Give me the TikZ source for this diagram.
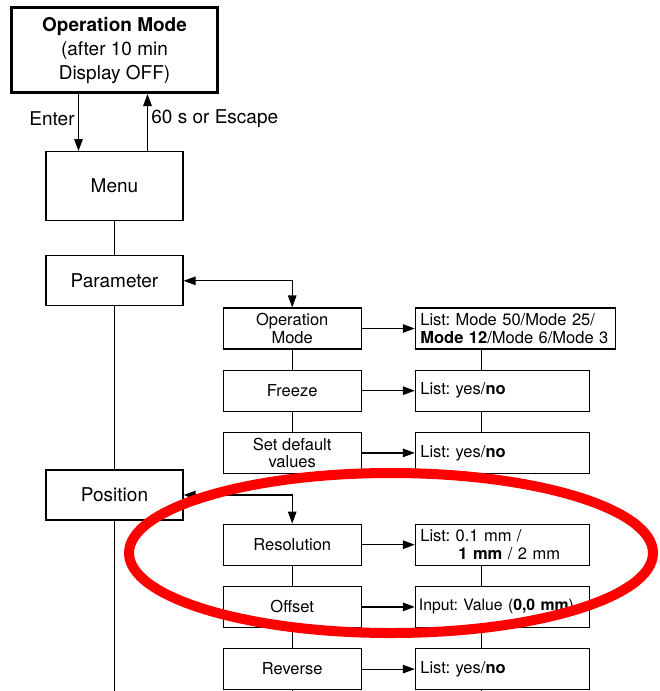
\documentclass[tikz,border=0pt]{standalone}
\usepackage{fontspec}
\setmainfont{TeX Gyre Heros}
\usepackage{tikz}
\usetikzlibrary{positioning}
\usetikzlibrary{arrows.meta}

\newcommand\bigfont{\fontsize{19}{24}\selectfont}
\newcommand\smallfont{\fontsize{16.5}{17.5}\selectfont}
\frenchspacing

\begin{document}
\begin{tikzpicture}[
      x=1pt, y=-1pt,
      >={Triangle[length=12pt,width=8.5pt]},
      node distance=20pt and 53pt,
      every path/.style={line width=1.2pt},
      mainbox/.style={draw,line width=1.2pt,minimum width=137pt,minimum height=50pt,font=\bigfont},
      subbox/.style={draw,line width=1.2pt,minimum width=138pt,minimum height=41pt,inner sep=2pt,align=center,font=\smallfont},
      valbox/.style={draw,line width=1.2pt,text width=164pt,minimum height=41pt,inner xsep=5pt,inner ysep=2pt,align=left,font=\smallfont}
      ]

      \useasboundingbox (0,0) rectangle (659,691);
      \coordinate (bot) at (0,691);

      \node[draw,line width=3pt,minimum width=206pt,minimum height=85pt,align=center,font=\bigfont] (opmode) at (114.5,50)
        {\textbf{Operation Mode}\\(after 10 min\\Display OFF)};
      \node[mainbox, minimum height=69pt, below=57pt of opmode] (menu) {Menu};
      \node[mainbox, below=34pt of menu] (param) {Parameter};
      \node[mainbox, below=163pt of param] (pos) {Position};

      \node[subbox, below right=1pt and 39pt of param] (opsub) {Operation\\Mode};
      \node[subbox, below=of opsub] (freeze) {Freeze};
      \node[subbox, below=of freeze] (setdef) {Set default\\values};

      \node[subbox, below right=3pt and 39pt of pos] (resol) {Resolution};
      \node[subbox, below=of resol] (offset) {Offset};
      \node[subbox, below=of offset] (reverse) {Reverse};

      \node[valbox, text width=190pt, right=of opsub] (opval) {List: Mode 50/Mode 25/\\\textbf{Mode 12}/Mode 6/Mode 3};
      \node[valbox, right=of freeze] (freezeval) {List: yes/\textbf{no}};
      \node[valbox, right=of setdef] (setdefval) {List: yes/\textbf{no}};
      \node[valbox, right=of resol] (resolval) {List: 0.1 mm /\\\hspace*{38pt}\textbf{1 mm} / 2 mm};
      \node[valbox, inner xsep=3.5pt, text width=167pt, right=of offset, font=\fontsize{15.8}{17}\selectfont] (offsetval) {\mbox{Input: Value (\textbf{0,0 mm})}};
      \node[valbox, right=of reverse] (reverseval) {List: yes/\textbf{no}};

      % main column
      \draw[->] ([xshift=-36pt]opmode.south) -- ([xshift=-36pt]menu.north)
        node[midway,left,yshift=4pt,font=\bigfont] (enter) {Enter};
      \draw[->] ([xshift=33pt]menu.north) -- ([xshift=33pt]opmode.south)
        node[midway,right,yshift=4pt,font=\bigfont] (escape) {60 s or Escape};
      \path (menu) edge (param)
      (param) edge (pos)
      ;
      \draw (pos.south) -- (pos.south |- bot);

      \draw[<->] (param.east) -| (opsub.north);
      \draw[<->] (pos.east) -| (resol.north);

      % sub menus
      \path (opsub) edge (freeze)
      (freeze) edge (setdef)
      (resol) edge (offset)
      (offset) edge (reverse)
      ;
      \draw (reverse.south) -- (reverse.south |- bot);

      \path (opsub) edge[->] (opval)
      (freeze) edge[->] (freezeval)
      (setdef) edge[->] (setdefval)
      (resol) edge[->] (resolval)
      (offset) edge[->] (offsetval)
      (reverse) edge[->] (reverseval)
      ;

      % value column
      \draw ([xshift=67pt]opval.south west) -- ([xshift=67pt]freezeval.north west);
      \draw ([xshift=67pt]freezeval.south west) -- ([xshift=67pt]setdefval.north west);
      \draw ([xshift=67pt]resolval.south west) -- ([xshift=67pt]offsetval.north west);
      \draw ([xshift=67pt]offsetval.south west) -- ([xshift=67pt]reverseval.north west);
      \draw ([xshift=67pt]reverseval.south west) -- ([xshift=67pt]reverseval.south west |- bot);

      % highlight
      \draw[red, line width=10pt] (391,553) ellipse [x radius=262pt, y radius=80pt];

\end{tikzpicture}
\end{document}
